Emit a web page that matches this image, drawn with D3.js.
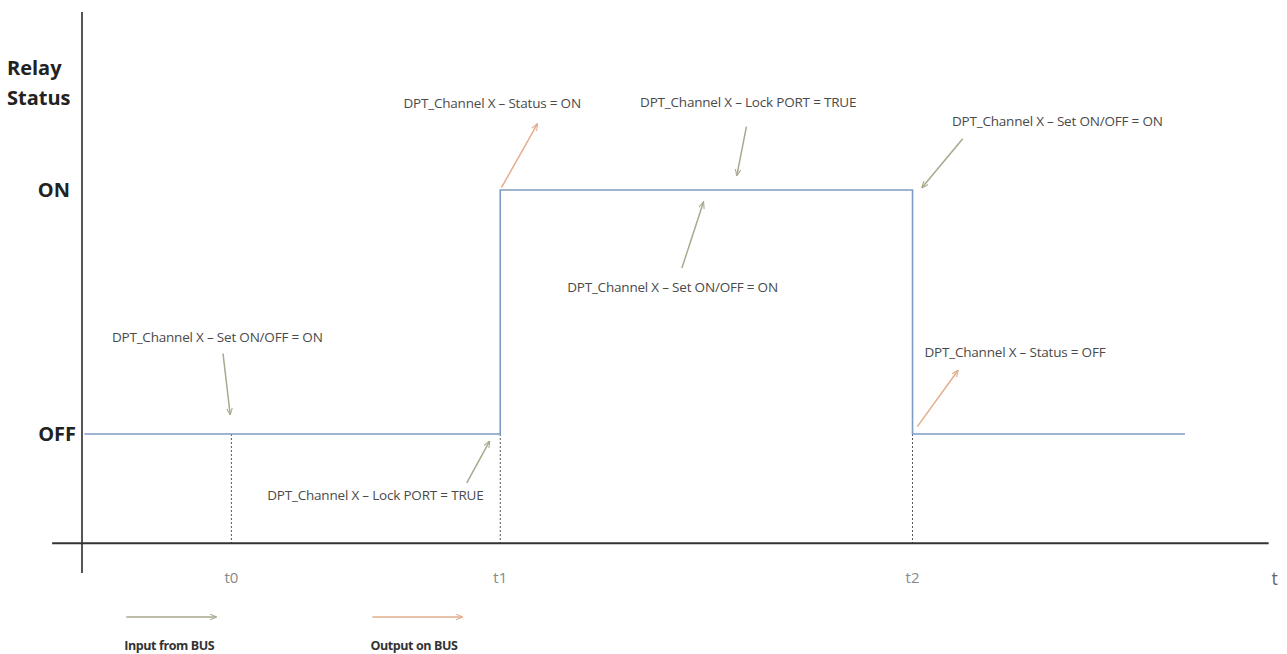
<!DOCTYPE html>
<html>
<head>
<meta charset="utf-8">
<script src="https://cdn.jsdelivr.net/npm/d3@7"></script>
<style>
  body { margin: 0; background: #fff; }
  svg { display: block; }
</style>
</head>
<body>
<div id="chart"></div>
<script>
// Relay status levels (y values)
const levels = ["OFF", "ON"];

// Signal: time points and status (0 = OFF, 1 = ON)
const signalTimes = [0.2, 35, 35, 69.5, 69.5, 92.3];
const signalValues = [0, 0, 1, 1, 0, 0];

// Marked instants on the time axis
const tickNames = ["t0", "t1", "t2"];
const tickTimes = [12.5, 35, 69.5];

// Bus telegrams: text, where the text sits, and the arrow (time, status)
const noteTexts = [
  "DPT_Channel X – Set ON/OFF = ON",
  "DPT_Channel X – Lock PORT = TRUE",
  "DPT_Channel X – Status = ON",
  "DPT_Channel X – Lock PORT = TRUE",
  "DPT_Channel X – Set ON/OFF = ON",
  "DPT_Channel X – Set ON/OFF = ON",
  "DPT_Channel X – Status = OFF"
];
const noteKinds = ["input", "input", "output", "input", "input", "input", "output"];
const noteTextAt = [[2.5, 0.395], [15.5, -0.25], [26.9, 1.355], [46.7, 1.36], [40.6, 0.60], [72.8, 1.28], [70.5, 0.336]];
const noteArrowFrom = [[11.8, 0.33], [32.2, -0.2], [35.1, 1.01], [55.6, 1.26], [50.2, 0.68], [73.7, 1.21], [69.9, 0.03]];
const noteArrowTo = [[12.4, 0.08], [34.1, -0.03], [38.1, 1.27], [54.8, 1.06], [52.0, 0.95], [70.3, 1.01], [73.3, 0.26]];

// Legend
const legendNames = ["Input from BUS", "Output on BUS"];
const legendKinds = ["input", "output"];
const legendTimes = [3.7, 24.3];

const colours = { input: "#a9a88c", output: "#e3ad8c" };

const width = 1287;
const height = 654;

// Scales: time -> x, status -> y
const xScale = d3.scaleLinear().domain([0, 100]).range([82, 1277]);
const yScale = d3.scaleLinear().domain([0, 1]).range([434, 190]);

const axisY = yScale(-0.448);
const axisTop = yScale(1.73);
const axisBottomEnd = yScale(-0.57);

const svg = d3.select("#chart").append("svg")
  .attr("width", width)
  .attr("height", height);

// Arrow heads
const defs = svg.append("defs");
for (const kind of ["input", "output"]) {
  defs.append("marker")
    .attr("id", "head-" + kind)
    .attr("viewBox", "0 0 10 10")
    .attr("refX", 9)
    .attr("refY", 5)
    .attr("markerWidth", 7)
    .attr("markerHeight", 7)
    .attr("markerUnits", "userSpaceOnUse")
    .attr("orient", "auto")
    .append("path")
    .attr("d", "M0,1 L10,5 L0,9")
    .attr("fill", "none")
    .attr("stroke", colours[kind])
    .attr("stroke-width", 1.5);
}

// Dotted drop lines at t0, t1, t2
svg.append("g")
  .selectAll("line")
  .data(tickTimes)
  .join("line")
  .attr("x1", (d) => xScale(d))
  .attr("x2", (d) => xScale(d))
  .attr("y1", yScale(0))
  .attr("y2", axisY)
  .attr("stroke", "#555")
  .attr("stroke-width", 1)
  .attr("stroke-dasharray", "2,2");

// Axes
svg.append("line")
  .attr("x1", xScale(0)).attr("x2", xScale(0))
  .attr("y1", axisTop).attr("y2", axisBottomEnd)
  .attr("stroke", "#555").attr("stroke-width", 2);

svg.append("line")
  .attr("x1", xScale(-2.5)).attr("x2", xScale(99.3))
  .attr("y1", axisY).attr("y2", axisY)
  .attr("stroke", "#333").attr("stroke-width", 2);

// Signal
const line = d3.line()
  .x((d) => xScale(d[0]))
  .y((d) => yScale(d[1]));

svg.append("path")
  .datum(d3.zip(signalTimes, signalValues))
  .attr("d", line)
  .attr("fill", "none")
  .attr("stroke", "#7d9cc4")
  .attr("stroke-width", 1.6);

// Level labels
svg.append("g")
  .selectAll("text")
  .data(levels)
  .join("text")
  .attr("x", (d, i) => xScale(-0.5) - (i === 1 ? 6 : 0))
  .attr("y", (d, i) => yScale(i))
  .attr("dy", "0.35em")
  .attr("text-anchor", "end")
  .attr("font-family", "'Open Sans', sans-serif")
  .attr("font-weight", "bold")
  .attr("font-size", 20)
  .attr("fill", "#222")
  .text((d) => d);

// Axis title
svg.append("text")
  .attr("font-family", "'Open Sans', sans-serif")
  .attr("font-weight", "bold")
  .attr("font-size", 20)
  .attr("fill", "#222")
  .selectAll("tspan")
  .data(["Relay", "Status"])
  .join("tspan")
  .attr("x", 7)
  .attr("y", (d, i) => 75 + i * 30)
  .text((d) => d);

// Time tick labels
svg.append("g")
  .selectAll("text")
  .data(tickNames)
  .join("text")
  .attr("x", (d, i) => xScale(tickTimes[i]))
  .attr("y", 583)
  .attr("text-anchor", "middle")
  .attr("font-family", "'Open Sans', sans-serif")
  .attr("font-size", 15)
  .attr("fill", "#888")
  .text((d) => d);

svg.append("text")
  .attr("x", xScale(99.8))
  .attr("y", 585)
  .attr("text-anchor", "middle")
  .attr("font-family", "'Open Sans', sans-serif")
  .attr("font-size", 18)
  .attr("fill", "#666")
  .text("t");

// Annotations
const notes = svg.append("g");

notes.selectAll("text")
  .data(noteTexts)
  .join("text")
  .attr("x", (d, i) => xScale(noteTextAt[i][0]))
  .attr("y", (d, i) => yScale(noteTextAt[i][1]))
  .attr("dy", "0.35em")
  .attr("font-family", "'Open Sans', sans-serif")
  .attr("font-size", 13.5)
  .attr("letter-spacing", -0.2)
  .attr("fill", "#4a4a4a")
  .text((d) => d);

notes.selectAll("line")
  .data(noteKinds)
  .join("line")
  .attr("x1", (d, i) => xScale(noteArrowFrom[i][0]))
  .attr("y1", (d, i) => yScale(noteArrowFrom[i][1]))
  .attr("x2", (d, i) => xScale(noteArrowTo[i][0]))
  .attr("y2", (d, i) => yScale(noteArrowTo[i][1]))
  .attr("stroke", (d) => colours[d])
  .attr("stroke-width", 1.5)
  .attr("marker-end", (d) => "url(#head-" + d + ")");

// Legend
const legend = svg.append("g")
  .selectAll("g")
  .data(legendNames)
  .join("g")
  .attr("transform", (d, i) => `translate(${xScale(legendTimes[i])}, 0)`);

legend.append("line")
  .attr("x1", 0).attr("x2", 90)
  .attr("y1", 617).attr("y2", 617)
  .attr("stroke", (d, i) => colours[legendKinds[i]])
  .attr("stroke-width", 1.5)
  .attr("marker-end", (d, i) => "url(#head-" + legendKinds[i] + ")");

legend.append("text")
  .attr("x", -2)
  .attr("y", 650)
  .attr("font-family", "'Open Sans', sans-serif")
  .attr("font-weight", "bold")
  .attr("font-size", 12.5)
  .attr("letter-spacing", -0.4)
  .attr("fill", "#333")
  .text((d) => d);
</script>
</body>
</html>
